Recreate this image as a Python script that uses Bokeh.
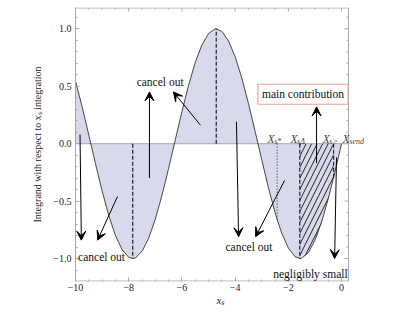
from bokeh.plotting import figure
from bokeh.models import Range1d, FixedTicker, Arrow, VeeHead, Label
from bokeh.embed import file_html
from bokeh.resources import INLINE

# ---- data ----
xs = [-10.0, -9.75, -9.5, -9.25, -9.0, -8.75, -8.5, -8.25, -8.0, -7.85,
      -7.75, -7.5, -7.25, -7.0, -6.75, -6.5, -6.25, -6.0, -5.75, -5.5,
      -5.25, -5.0, -4.75, -4.71, -4.5, -4.25, -4.0, -3.75, -3.5, -3.25,
      -3.0, -2.75, -2.5, -2.42, -2.25, -2.0, -1.75, -1.57, -1.5, -1.25,
      -1.0, -0.75, -0.5, -0.3, 0.0]
ys = [0.544, 0.320, 0.075, -0.174, -0.412, -0.625, -0.799, -0.922, -0.989, -1.0,
      -0.995, -0.938, -0.823, -0.657, -0.450, -0.215, 0.033, 0.279, 0.508, 0.706,
      0.859, 0.959, 0.999, 1.0, 0.978, 0.895, 0.757, 0.572, 0.351, 0.108,
      -0.141, -0.382, -0.599, -0.660, -0.778, -0.909, -0.984, -1.0, -0.998, -0.949,
      -0.841, -0.682, -0.479, -0.296, 0.0]

peak_x = [-7.85, -4.71, -1.57]      # dashed guides
xs_star = -2.42                      # dotted guide
xs_delta = -1.57
xs_gt = -0.30

x_ticks = [-10, -8, -6, -4, -2, 0]
x_tick_labels = ["\u221210", "\u22128", "\u22126", "\u22124", "\u22122", "0"]
y_ticks = [-1.0, -0.5, 0.0, 0.5, 1.0]
y_tick_labels = ["\u22121.0", "\u22120.5", "0.0", "0.5", "1.0"]

x_minor = [t / 2 for t in range(-20, 1) if t % 4 != 0]
y_minor = [round(t / 10, 1) for t in range(-11, 12) if t % 5 != 0]

note_text = ["cancel out", "cancel out", "cancel out", "negligibly small"]
note_x = [-9.02, -6.82, -3.48, -1.17]
note_y = [-0.99, 0.54, -0.90, -1.135]

main_text = "main contribution"
main_x, main_y = -1.45, 0.43

# arrows: (x_start, y_start, x_tip, y_tip)
arrows = [(-9.83, 0.08, -9.78, -0.84),
          (-8.42, -0.46, -9.17, -0.84),
          (-7.22, -0.30, -7.22, 0.45),
          (-5.30, 0.16, -6.32, 0.45),
          (-3.95, 0.19, -3.87, -0.81),
          (-2.14, -0.32, -3.23, -0.81),
          (-0.94, -0.17, -0.94, 0.32),
          (-0.19, -0.12, -0.26, -1.00)]

xlab_sub = ["s*", "s\u0394", "s>", "send"]
xlab_x = [-2.78, -1.92, -0.71, 0.04]
xlab_y = 0.044

# ---- layout / style ----
FONT = "Liberation Serif"
FILL = "#d9d9ec"
FRAME = "#a8a8a8"
X_LO, X_HI, X_VIEW = -10.0, 0.26, 0.90   # frame right edge at X_HI; view extends for the label
Y_LO, Y_HI = -1.2, 1.185
PXU = 26.6                                # pixels per x unit
PYU = 114.5                               # pixels per y unit

p = figure(width=413, height=310, x_range=Range1d(X_LO, X_VIEW), y_range=Range1d(Y_LO, Y_HI),
           output_backend="svg", toolbar_location=None,
           min_border_left=75, min_border_right=413 - 75 - int(round((X_VIEW - X_LO) * PXU)),
           min_border_top=7, min_border_bottom=29)
p.grid.visible = False
p.outline_line_color = None
p.background_fill_color = "white"

xt = FixedTicker(ticks=x_ticks, minor_ticks=x_minor)
yt = FixedTicker(ticks=y_ticks, minor_ticks=y_minor)

for ax, t, labs in ((p.xaxis[0], xt, dict(zip(x_ticks, x_tick_labels))),
                    (p.yaxis[0], yt, dict(zip(y_ticks, y_tick_labels)))):
    ax.ticker = t
    ax.major_label_overrides = labs
    ax.axis_line_color = FRAME
    ax.major_tick_line_color = FRAME
    ax.minor_tick_line_color = FRAME
    ax.major_tick_in = 4
    ax.major_tick_out = 0
    ax.minor_tick_in = 2
    ax.minor_tick_out = 0
    ax.major_label_text_font = FONT
    ax.major_label_text_font_size = "10px"
    ax.major_label_text_color = "#222222"
    ax.axis_label_text_font = FONT
    ax.axis_label_text_color = "#222222"

p.xaxis.axis_line_color = None
p.xaxis.major_label_standoff = 2
p.xaxis.axis_label = "x\u209b"
p.xaxis.axis_label_text_font_size = "11px"
p.xaxis.axis_label_text_font_style = "italic"
p.xaxis.axis_label_standoff = 0
p.yaxis.major_label_standoff = 4
p.yaxis.axis_label = "Integrand with respect to x\u209b integration"
p.yaxis.axis_label_text_font_size = "10px"
p.yaxis.axis_label_text_font_style = "normal"
p.yaxis.axis_label_standoff = 7

# frame lines (bottom, top, right) limited to the plotted domain
p.segment(x0=[X_LO, X_LO, X_HI], y0=[Y_LO + 0.004, Y_HI - 0.004, Y_LO],
          x1=[X_HI, X_HI, X_HI], y1=[Y_LO + 0.004, Y_HI - 0.004, Y_HI],
          line_color=FRAME, line_width=1)
# right-side ticks
p.segment(x0=[X_HI] * len(y_ticks), y0=y_ticks, x1=[X_HI - 4 / PXU] * len(y_ticks), y1=y_ticks,
          line_color=FRAME, line_width=1)
p.segment(x0=[X_HI] * len(y_minor), y0=y_minor, x1=[X_HI - 2 / PXU] * len(y_minor), y1=y_minor,
          line_color=FRAME, line_width=1)
# top-side ticks
p.segment(x0=x_ticks, y0=[Y_HI] * len(x_ticks), x1=x_ticks, y1=[Y_HI - 4 / PYU] * len(x_ticks),
          line_color=FRAME, line_width=1)
p.segment(x0=x_minor, y0=[Y_HI] * len(x_minor), x1=x_minor, y1=[Y_HI - 2 / PYU] * len(x_minor),
          line_color=FRAME, line_width=1)

# filled area between curve and axis
p.varea(x=xs, y1=0, y2=ys, fill_color=FILL, fill_alpha=1.0)
p.segment(x0=[X_LO], y0=[0], x1=[X_HI], y1=[0], line_color="#b4b4d0", line_width=1.3)

# hatched main-contribution region
hx = [x for x in xs if xs_delta <= x <= xs_gt]
hy = [ys[xs.index(x)] for x in hx]
p.varea(x=hx, y1=0, y2=hy, fill_color=None, fill_alpha=0, hatch_pattern="/",
        hatch_color="#222222", hatch_scale=11, hatch_weight=1.0)

p.line(xs, ys, line_color="#333333", line_width=0.9)

# guides
py = [ys[xs.index(x)] for x in peak_x]
p.segment(x0=peak_x, y0=[0] * 3, x1=peak_x, y1=py, line_color="#222222",
          line_width=1.2, line_dash="4 2")
p.segment(x0=[xs_gt], y0=[0], x1=[xs_gt], y1=[ys[xs.index(xs_gt)]], line_color="#222222",
          line_width=1.2, line_dash="4 2")
p.segment(x0=[xs_star], y0=[0], x1=[xs_star], y1=[ys[xs.index(xs_star)]],
          line_color="#222222", line_width=1.0, line_dash="1 2")

for (x0, y0, x1, y1) in arrows:
    p.add_layout(Arrow(x_start=x0, y_start=y0, x_end=x1, y_end=y1, line_color="black",
                       line_width=1.0,
                       end=VeeHead(size=9, fill_color="black", line_color="black", line_width=1)))

for t, x, y in zip(note_text, note_x, note_y):
    p.add_layout(Label(x=x, y=y, text=t, text_font=FONT, text_font_size="11.5px",
                       text_align="center", text_baseline="middle", text_color="#111111"))

p.add_layout(Label(x=main_x, y=main_y, text=main_text, text_font=FONT, text_font_size="11.5px",
                   text_align="center", text_baseline="middle", text_color="#111111",
                   background_fill_color="white", border_line_color="#f0a0a0",
                   border_line_width=1.2, padding=4))

for sub, x in zip(xlab_sub, xlab_x):
    p.add_layout(Label(x=x, y=xlab_y, text="X", text_font=FONT, text_font_size="11.5px",
                       text_font_style="italic", text_align="left", text_baseline="alphabetic"))
    p.add_layout(Label(x=x + 0.25, y=xlab_y - 0.022, text=sub, text_font=FONT,
                       text_font_size="8px", text_font_style="italic", text_align="left",
                       text_baseline="alphabetic"))

open("out.html", "w").write(file_html(p, INLINE))
